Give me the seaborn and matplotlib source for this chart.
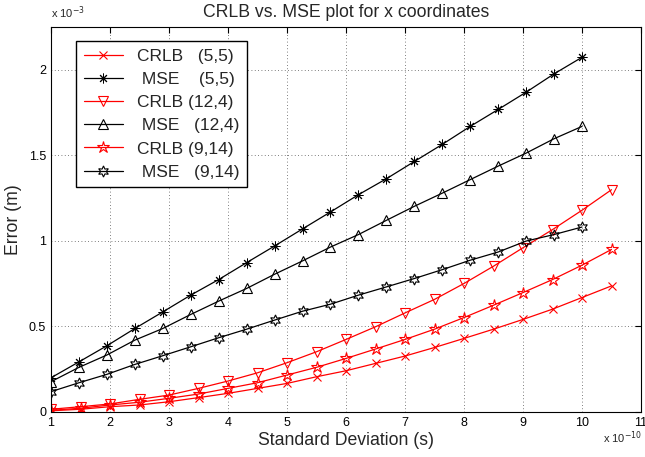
import numpy as np
import pandas as pd
import matplotlib
matplotlib.use("Agg")
import matplotlib.pyplot as plt
import seaborn as sns

# x values (units of 1e-10 s)
x_mse = [1.0, 1.474, 1.947, 2.421, 2.895, 3.368, 3.842, 4.316, 4.789, 5.263,
         5.737, 6.211, 6.684, 7.158, 7.632, 8.105, 8.579, 9.053, 9.526, 10.0]
x_crlb = [1.0, 1.5, 2.0, 2.5, 3.0, 3.5, 4.0, 4.5, 5.0, 5.5,
          6.0, 6.5, 7.0, 7.5, 8.0, 8.5, 9.0, 9.5, 10.0, 10.5]

# y values (units of 1e-3 m)
crlb_55 = [0.007, 0.016, 0.031, 0.041, 0.060, 0.084, 0.109, 0.138, 0.167, 0.206,
           0.241, 0.284, 0.327, 0.377, 0.430, 0.484, 0.541, 0.601, 0.669, 0.737]
mse_55 = [0.200, 0.293, 0.387, 0.488, 0.585, 0.683, 0.774, 0.873, 0.970, 1.070,
          1.169, 1.270, 1.363, 1.464, 1.564, 1.669, 1.768, 1.869, 1.976, 2.073]
crlb_124 = [0.016, 0.031, 0.047, 0.074, 0.099, 0.138, 0.181, 0.229, 0.288, 0.352,
            0.424, 0.498, 0.579, 0.658, 0.751, 0.852, 0.960, 1.066, 1.179, 1.299]
mse_124 = [0.177, 0.261, 0.333, 0.420, 0.488, 0.570, 0.648, 0.722, 0.805, 0.883,
           0.964, 1.037, 1.120, 1.202, 1.279, 1.358, 1.437, 1.513, 1.597, 1.669]
crlb_914 = [0.010, 0.022, 0.041, 0.057, 0.080, 0.105, 0.138, 0.171, 0.216, 0.261,
            0.313, 0.368, 0.424, 0.484, 0.552, 0.624, 0.698, 0.774, 0.858, 0.950]
mse_914 = [0.119, 0.171, 0.220, 0.278, 0.329, 0.381, 0.434, 0.484, 0.537, 0.589,
           0.630, 0.683, 0.731, 0.780, 0.832, 0.887, 0.935, 0.999, 1.037, 1.081]

labels = ["CRLB   (5,5)", " MSE    (5,5)", "CRLB (12,4)", " MSE   (12,4)",
          "CRLB (9,14)", " MSE   (9,14)"]

sns.set_style("white")
plt.rcParams['font.family'] = ['Liberation Sans', 'DejaVu Sans']

fig = plt.figure(figsize=(6.45, 4.57), dpi=100)
ax = fig.add_axes([51/645, 45/457, 590/645, 385/457])

series = [
    (x_crlb, crlb_55, 'red', 'x', 6, 0.8),
    (x_mse, mse_55, 'black', (8, 2, 0), 7, 0.7),
    (x_crlb, crlb_124, 'red', 'v', 7.5, 0.8),
    (x_mse, mse_124, 'black', '^', 7.5, 0.8),
    (x_crlb, crlb_914, 'red', '*', 9, 0.8),
    (x_mse, mse_914, 'black', (6, 1, 0), 8, 0.8),
]
for (xs, ys, c, m, ms, mew), lab in zip(series, labels):
    df = pd.DataFrame({'x': xs, 'y': ys})
    sns.lineplot(data=df, x='x', y='y', ax=ax, color=c, marker=m, markersize=ms,
                 markerfacecolor='none', markeredgecolor=c, markeredgewidth=mew,
                 linewidth=0.9, label=lab, sort=False)

ax.set_xlim(1, 11)
ax.set_ylim(0, 2.25)
ax.set_xticks(range(1, 12))
ax.set_yticks([0, 0.5, 1, 1.5, 2])
ax.set_yticklabels(['0', '0.5', '1', '1.5', '2'])
ax.grid(True, linestyle=(0, (1, 3)), color='#555555', linewidth=0.6)
ax.tick_params(direction='in', top=True, right=True, length=4, labelsize=9, colors='black')
for s in ax.spines.values():
    s.set_color('black')
    s.set_linewidth(0.8)

ax.set_title("CRLB vs. MSE plot for x coordinates", fontsize=12.7, pad=7)
ax.set_xlabel("Standard Deviation (s)", fontsize=12.7, labelpad=2)
ax.set_ylabel("Error (m)", fontsize=12.7, labelpad=5)
fig.text(51/645, 1 - 18/457, r"x 10$^{-3}$", fontsize=8, ha='left', va='baseline')
fig.text(603/645, 1 - 443/457, r"x 10$^{-10}$", fontsize=8, ha='left', va='baseline')

leg = ax.legend(loc='upper left', bbox_to_anchor=(25/590, 1 - 14/385), fontsize=12.5,
                frameon=True, fancybox=False, edgecolor='black', framealpha=1,
                borderaxespad=0, handlelength=2.25, labelspacing=0.46, borderpad=0.45,
                handletextpad=0.8)
leg.get_frame().set_linewidth(1.0)

fig.savefig("out.png", dpi=100)
